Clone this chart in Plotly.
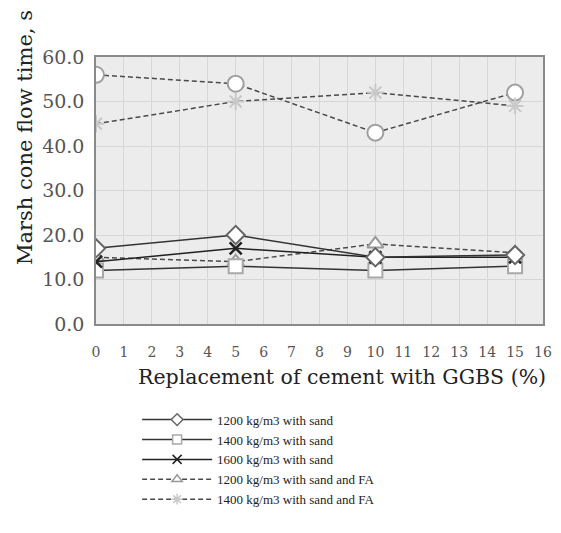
import plotly.graph_objects as go

x_vals = [0, 5, 10, 15]
s1200_sand = [17, 20, 15, 15.5]
s1400_sand = [12, 13, 12, 13]
s1600_sand = [14, 17, 15, 15]
s1200_sand_fa = [15, 14, 18, 16]
s1400_sand_fa = [45, 50, 52, 49]
s1600_sand_fa = [56, 54, 43, 52]
x_ticks = list(range(0, 17))
y_ticks = [0, 10, 20, 30, 40, 50, 60]

SERIF = "DejaVu Serif"
DASH = "5px,3px"
fig = go.Figure()

# (name, values, dash, line colour, symbol, marker outline, marker fill, size, in legend, outline width)
series = [
    ("1600 kg/m3 with sand and FA", s1600_sand_fa, DASH, "#4a4a4a", "circle", "#a0a0a0", "white", 16, False, 2),
    ("1400 kg/m3 with sand and FA", s1400_sand_fa, DASH, "#4a4a4a", "asterisk", "#c8c8c8", "#c8c8c8", 14, True, 2),
    ("1200 kg/m3 with sand and FA", s1200_sand_fa, DASH, "#4a4a4a", "triangle-up", "#999999", "white", 14, True, 2),
    ("1400 kg/m3 with sand", s1400_sand, "solid", "#333333", "square", "#a8a8a8", "white", 14, True, 2),
    ("1600 kg/m3 with sand", s1600_sand, "solid", "#222222", "x-thin", "#222222", "#222222", 12, True, 2.5),
    ("1200 kg/m3 with sand", s1200_sand, "solid", "#333333", "diamond", "#666666", "white", 14, True, 2),
]
order = ["1200 kg/m3 with sand", "1400 kg/m3 with sand", "1600 kg/m3 with sand",
         "1200 kg/m3 with sand and FA", "1400 kg/m3 with sand and FA"]

for name, y, dash, lc, sym, mc, mf, ms, leg, mw in series:
    fig.add_trace(go.Scatter(
        x=x_vals, y=y, name=name, mode="lines+markers", showlegend=False,
        line=dict(color=lc, width=1.5, dash=dash),
        marker=dict(symbol=sym, size=ms, color=mf, line=dict(color=mc, width=mw)),
    ))
    if leg:
        # legend entry with the smaller legend-sized markers of the reference
        fig.add_trace(go.Scatter(
            x=[None], y=[None], name=name, mode="lines+markers", showlegend=True,
            legendrank=order.index(name) + 1,
            line=dict(color=lc, width=1.5, dash=dash),
            marker=dict(symbol=sym, size=9, color=mf, line=dict(color=mc, width=1.5)),
        ))

fig.update_layout(
    width=545, height=517,
    margin=dict(l=88, r=10, t=49, b=199),
    paper_bgcolor="white", plot_bgcolor="#ececec",
    font=dict(family=SERIF, color="#404040"),
    xaxis=dict(range=[0, 16], tickvals=x_ticks, ticktext=[str(v) for v in x_ticks],
               automargin=False,
               showgrid=True, gridcolor="#d6d6d6", gridwidth=1,
               showline=True, linecolor="#8a8a8a", linewidth=1.5, mirror=True,
               zeroline=False, ticks="", ticklabelstandoff=14,
               tickfont=dict(family=SERIF, size=14, color="#555555")),
    yaxis=dict(range=[0, 60], tickvals=y_ticks, ticktext=[f"{v:.1f}" for v in y_ticks],
               automargin=False,
               showgrid=True, gridcolor="#d6d6d6", gridwidth=1,
               showline=True, linecolor="#8a8a8a", linewidth=1.5, mirror=True,
               zeroline=False, ticks="", ticklabelstandoff=6,
               tickfont=dict(family=SERIF, size=19, color="#555555")),
    legend=dict(x=0.092, y=-0.302, xanchor="left", yanchor="top",
                font=dict(family="Liberation Serif", size=13, color="#222222"),
                bgcolor="rgba(0,0,0,0)", tracegroupgap=0, itemwidth=70),
    annotations=[
        dict(text="Marsh cone flow time, s", xref="paper", yref="paper",
             x=-0.159, y=0.70, xanchor="center", yanchor="middle", textangle=-90,
             showarrow=False, font=dict(family=SERIF, size=21, color="#222222")),
        dict(text="Replacement of cement with GGBS (%)", xref="paper", yref="paper",
             x=0.55, y=-0.2, xanchor="center", yanchor="middle",
             showarrow=False, font=dict(family=SERIF, size=20.5, color="#222222")),
    ],
)

fig.write_html("out.html")
